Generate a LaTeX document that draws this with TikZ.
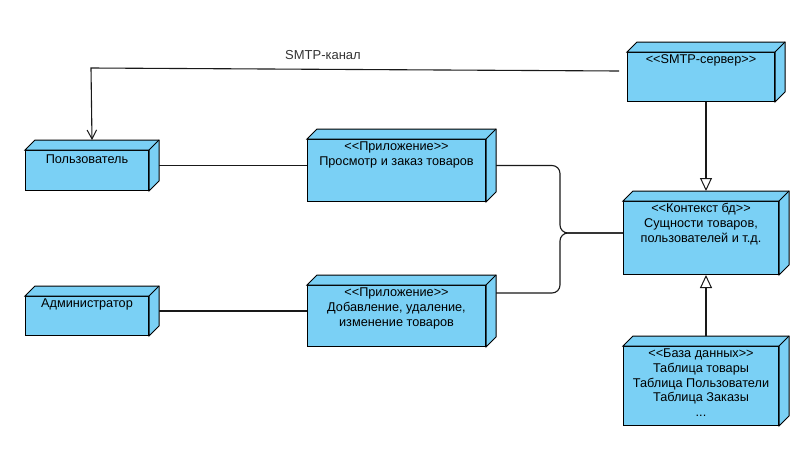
\documentclass[tikz,border=0pt]{standalone}
\usepackage{fontspec}
\setmainfont{Liberation Sans}
\usetikzlibrary{arrows.meta}
\definecolor{nodeblue}{RGB}{122,208,245}
\newcommand\stereo[1]{<\kern0pt<#1>\kern0pt>}
\newcommand\firstline{\rule{0pt}{10pt}}
\begin{document}
\begin{tikzpicture}[x=1pt,y=-1pt,
  boxfront/.style={draw=black, fill=nodeblue, line width=1pt, inner sep=0pt, anchor=north west, rectangle},
  boxface/.style={draw=black, fill=nodeblue, line width=1pt, line join=miter},
  boxtext/.style={font=\fontsize{12.7}{14.6}\selectfont, align=center, inner sep=0pt, anchor=north, text=black},
  conn/.style={draw=black!90, line width=1.1pt},
  barb/.style={-{Straight Barb[length=9pt,width=9.5pt,line width=1pt]}},
  realize/.style={-{Triangle[open,length=13pt,width=12pt,line width=1pt,fill=white]}},
]
\useasboundingbox (0,0) rectangle (807,448);

% front faces
\node[boxfront, minimum width=123pt, minimum height=40pt] (user)  at (25,150)  {};
\node[boxfront, minimum width=123pt, minimum height=39pt] (admin) at (25,296)  {};
\node[boxfront, minimum width=178pt, minimum height=62pt] (app1)  at (307,139) {};
\node[boxfront, minimum width=178pt, minimum height=61pt] (app2)  at (307,285) {};
\node[boxfront, minimum width=147pt, minimum height=49pt] (smtp)  at (627,52)  {};
\node[boxfront, minimum width=155pt, minimum height=73pt] (ctx)   at (623,201) {};
\node[boxfront, minimum width=155pt, minimum height=79pt] (db)    at (623,346) {};

% 3D top and side faces
\foreach \n in {user,admin,app1,app2,smtp,ctx,db}{
  \filldraw[boxface] (\n.north west) -- ++(10,-10) -- ([shift={(10,-10)}]\n.north east)
     -- ([shift={(10,-10)}]\n.south east) -- (\n.south east) -- (\n.north east) -- cycle;
  \draw[boxface] (\n.north east) -- ++(10,-10);
}

% texts (first baseline 11.7pt below the front top)
\node[boxtext] (usertxt)  at ([yshift=-3pt]user.north)    {\firstline Пользователь};
\node[boxtext] (admintxt) at ([yshift=-1.7pt]admin.north) {\firstline Администратор};
\node[boxtext] (app1txt)  at ([yshift=-1.7pt]app1.north)  {\firstline\stereo{Приложение}\\Просмотр и заказ товаров};
\node[boxtext] (app2txt)  at ([yshift=-1.7pt]app2.north)  {\firstline\stereo{Приложение}\\Добавление, удаление,\\изменение товаров};
\node[boxtext] (smtptxt)  at ([yshift=-1.7pt]smtp.north)  {\firstline\stereo{SMTP-сервер}};
\node[boxtext] (ctxtxt)   at ([yshift=-1.7pt]ctx.north)   {\firstline\stereo{Контекст бд}\\Сущности товаров,\\пользователей и т.д.};
\node[boxtext] (dbtxt)    at ([yshift=-1.7pt]db.north)    {\firstline\stereo{База данных}\\Таблица товары\\Таблица Пользователи\\Таблица Заказы\\...};

% connectors
\coordinate (smtpend) at (619,71);
\coordinate (bend) at (91,68);
\draw[conn,barb] (smtpend) -- (bend) -- ([shift={(5,-10)}]user.north);
\node[font=\fontsize{13}{15}\selectfont, text=black!80, inner sep=0pt] (smtplbl) at (323,55) {SMTP-канал};

\draw[conn] ([shift={(10,-5)}]user.east) -- ([yshift=5pt]app1.west);
\draw[conn] ([shift={(10,-5)}]admin.east) -- ([yshift=5pt]app2.west);

\draw[conn, rounded corners=8pt] ([shift={(10,-5)}]app1.east) -- ++(64,0) |- ([yshift=5pt]ctx.west);
\draw[conn, rounded corners=8pt] ([shift={(10,-23)}]app2.east) -- ++(64,0) |- ([yshift=5pt]ctx.west);

\draw[conn,realize] ([xshift=5pt]smtp.south) -- ([shift={(5,-10)}]ctx.north);
\draw[conn,realize] ([shift={(5,-10)}]db.north) -- ([xshift=5pt]ctx.south);
\end{tikzpicture}
\end{document}
